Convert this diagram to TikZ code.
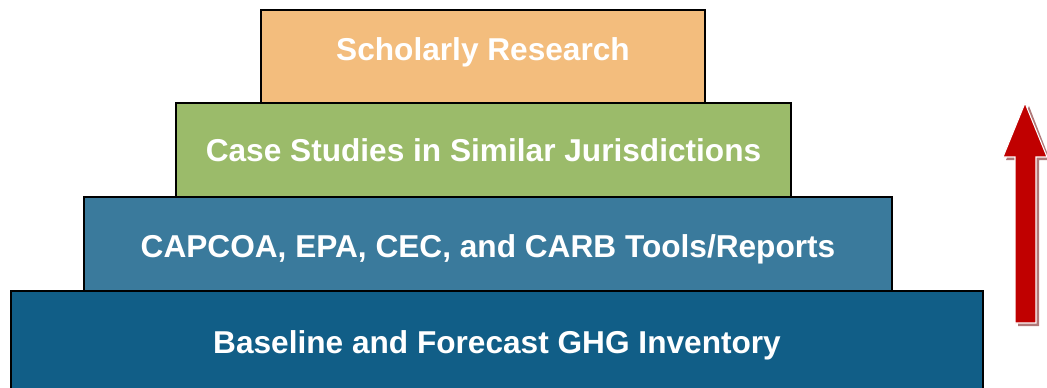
\documentclass[tikz,border=0pt]{standalone}
\usepackage{fontspec}
\setmainfont{Liberation Sans}
\usetikzlibrary{positioning}
\definecolor{tiertop}{HTML}{F3BD7D}
\definecolor{tiercase}{HTML}{9BBB6A}
\definecolor{tiertool}{HTML}{3A7A9C}
\definecolor{tierbase}{HTML}{115E87}
\definecolor{arrowred}{HTML}{C00000}
\definecolor{arrowshade}{HTML}{B07878}
\tikzset{
  tier/.style={draw=black, line width=0.8pt, text=white, inner sep=0pt,
    text height=12.9pt, text depth=0pt,
    font=\fontsize{18}{21}\selectfont\bfseries},
}

\begin{document}
\begin{tikzpicture}[x=0.02cm, y=-0.02cm]
    \useasboundingbox (0, 0) rectangle (1047, 387);
    % pyramid, base first
    \node[tier, fill=tierbase, text height=15.1pt, minimum width=19.44cm, minimum height=1.96cm] (base) at (497, 340) {Baseline and Forecast GHG Inventory};
    \node[tier, fill=tiertool, text height=15.1pt, minimum width=16.16cm, minimum height=1.88cm] (tools) at (488, 244) {CAPCOA, EPA, CEC, and CARB Tools/Reports};
    \node[tier, fill=tiercase, minimum width=12.30cm, minimum height=1.88cm] (cases) at (483.5, 150) {Case Studies in Similar Jurisdictions};
    \node[tier, fill=tiertop, text depth=8pt, minimum width=8.88cm, minimum height=1.86cm] (research) at (483, 56.5) {Scholarly Research};
    % upward arrow
    \fill[arrowshade] (1029, 106) -- (1050, 160) -- (1039, 160) -- (1039, 326)
        -- (1018, 326) -- (1018, 160) -- (1006, 160) -- cycle;
    \filldraw[fill=arrowred, draw=white, line width=0.6pt] (1025, 103) -- (1047, 157) -- (1036, 157) -- (1036, 323)
        -- (1015, 323) -- (1015, 157) -- (1003, 157) -- cycle;
\end{tikzpicture}
\end{document}
